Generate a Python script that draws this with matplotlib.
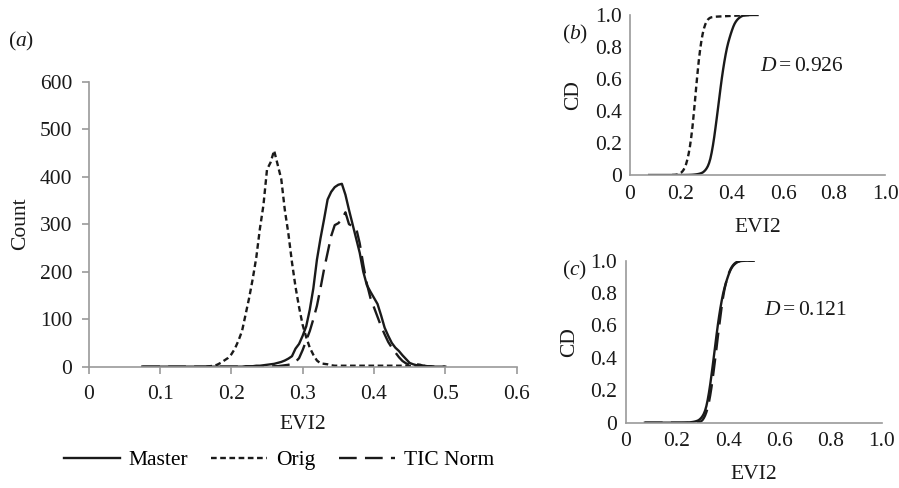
import numpy as np
import matplotlib
matplotlib.use("Agg")
import matplotlib.pyplot as plt

plt.rcParams["font.family"] = ["Liberation Serif", "DejaVu Serif"]
plt.rcParams["mathtext.fontset"] = "custom"
plt.rcParams["mathtext.rm"] = "Liberation Serif"
plt.rcParams["mathtext.it"] = "Liberation Serif:italic"

# histogram bin centres (EVI2), step 0.005
evi2 = np.round(np.arange(0.075, 0.5001, 0.005), 3)

nan = np.nan
master = [0] * 29 + [
    1, 1, 1, 2, 2, 3, 4, 5, 6, 8,
    10, 13, 17, 22, 38, 48, 65, 85, 120, 165,
    225, 270, 310, 352, 368, 378, 383, 385, 362, 330,
    300, 270, 240, 200, 172, 158, 145, 132, 108, 82,
    65, 50, 40, 33, 24, 16, 8, 5, 3, 2,
    2, 1, 1, 0, 0, 0, 0,
]
orig = [nan] * 18 + [
    0, 1, 2, 4, 8, 13, 18, 26, 38, 55,
    75, 110, 145, 185, 230, 290, 340, 415, 430, 455,
    425, 395, 330, 280, 220, 168, 125, 88, 62, 40,
    25, 13, 7, 6, 5, 3,
] + [2] * 26 + [0] + [nan] * 5
tic_norm = [0] * 37 + [
    1, 1, 2, 3, 4, 6, 10, 18, 35, 55,
    75, 100, 128, 165, 205, 240, 275, 298, 302, 310,
    325, 300, 296, 292, 260, 215, 175, 145, 125, 105,
    85, 68, 52, 40, 30, 20, 12, 7, 4, 3,
    5, 4, 1, 0, 0, 0, 0, 0, 0,
]

d_orig = 0.926
d_tic = 0.121


def cdf(counts):
    c = np.array(counts, dtype=float)
    out = np.nancumsum(c) / np.nansum(c)
    out[np.isnan(c)] = np.nan
    return out


ink = "#1a1a1a"
grey = "#9a9a9a"
lw = 1.7
fs = 15.5
styles = {
    "Master": dict(ls="-"),
    "Orig": dict(ls=(0, (2.4, 1.5))),
    "TIC Norm": dict(ls=(0, (7.5, 3.5))),
}


def style_axes(ax, ticklen=5, xpad=8, ypad=7):
    for s in ("top", "right"):
        ax.spines[s].set_visible(False)
    for s in ("left", "bottom"):
        ax.spines[s].set_color(grey)
        ax.spines[s].set_linewidth(1.2)
    ax.tick_params(colors=grey, labelcolor=ink, labelsize=fs, length=ticklen,
                   width=1.2, direction="out")
    ax.tick_params(axis="x", pad=xpad)
    ax.tick_params(axis="y", pad=ypad)


fig = plt.figure(figsize=(8.99, 4.88), dpi=100)

# (a) histogram counts
ax = fig.add_axes([0.0987, 0.2486, 0.4759, 0.584])
ax.plot(evi2, master, color=ink, lw=lw, label="Master", **styles["Master"])
ax.plot(evi2, orig, color=ink, lw=lw, label="Orig", **styles["Orig"])
ax.plot(evi2, tic_norm, color=ink, lw=lw, label="TIC Norm", **styles["TIC Norm"])
ax.set_xlim(0, 0.6)
ax.set_ylim(0, 600)
ax.set_xticks(np.arange(0, 0.61, 0.1))
ax.set_xticklabels(["0", "0.1", "0.2", "0.3", "0.4", "0.5", "0.6"])
ax.set_yticks(range(0, 601, 100))
style_axes(ax)
ax.set_xlabel("EVI2", fontsize=fs, color=ink, labelpad=8)
ax.set_ylabel("Count", fontsize=fs, color=ink, labelpad=7)
fig.text(0.009, 0.905, r"($a$)", fontsize=fs, color=ink)

fig.legend(loc="center", bbox_to_anchor=(0.31, 0.057), ncol=3, frameon=False,
           fontsize=fs, handlelength=2.6, handletextpad=0.4, columnspacing=1.1)

cd_ticks = [0, 0.2, 0.4, 0.6, 0.8, 1.0]
cd_labels = ["0", "0.2", "0.4", "0.6", "0.8", "1.0"]


def cd_panel(rect, other, other_name, d_value, d_pos, tag, tag_y):
    ax = fig.add_axes(rect)
    ax.plot(evi2, cdf(master), color=ink, lw=lw, **styles["Master"])
    ax.plot(evi2, cdf(other), color=ink, lw=lw, **styles[other_name])
    ax.set_xlim(0, 1.0)
    ax.set_ylim(0, 1.0)
    ax.set_xticks(cd_ticks)
    ax.set_xticklabels(cd_labels)
    ax.set_yticks(cd_ticks)
    ax.set_yticklabels(cd_labels)
    style_axes(ax, ticklen=0, xpad=7, ypad=6)
    ax.set_xlabel("EVI2", fontsize=fs, color=ink, labelpad=10)
    ax.set_ylabel("CD", fontsize=fs, color=ink, labelpad=8)
    ax.text(d_pos[0], d_pos[1], r"$D = %.3f$" % d_value,
            transform=ax.transAxes, fontsize=fs, color=ink, va="center")
    fig.text(0.625, tag_y, tag, fontsize=fs, color=ink)
    return ax


cd_panel([0.7008, 0.6414, 0.2837, 0.3279], orig, "Orig", d_orig,
         (0.51, 0.675), r"($b$)", 0.92)
cd_panel([0.696, 0.1338, 0.2848, 0.332], tic_norm, "TIC Norm", d_tic,
         (0.54, 0.69), r"($c$)", 0.435)

fig.savefig("out.png", dpi=100, facecolor="white")
